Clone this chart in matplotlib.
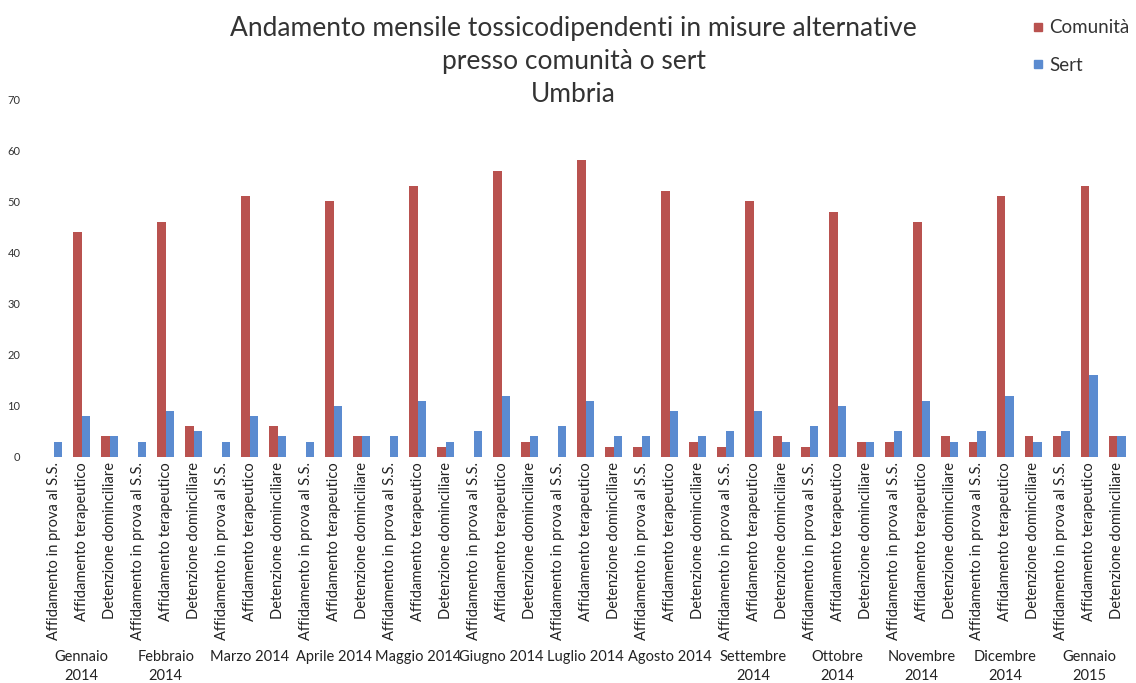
import numpy as np
import matplotlib
matplotlib.use("Agg")
import matplotlib.pyplot as plt
from matplotlib.lines import Line2D

plt.rcParams['font.family'] = ['Lato', 'DejaVu Sans']

# Months (group labels) and the three measures in each month
months = ["Gennaio\n2014", "Febbraio\n2014", "Marzo 2014", "Aprile 2014",
          "Maggio 2014", "Giugno 2014", "Luglio 2014", "Agosto 2014",
          "Settembre\n2014", "Ottobre\n2014", "Novembre\n2014",
          "Dicembre\n2014", "Gennaio\n2015"]
measures = ["Affidamento in prova al S.S.", "Affidamento terapeutico",
            "Detenzione dominciliare"]

# values per month: [prova S.S., terapeutico, detenzione]
comunita = [0, 44, 4,
            0, 46, 6,
            0, 51, 6,
            0, 50, 4,
            0, 53, 2,
            0, 56, 3,
            0, 58, 2,
            2, 52, 3,
            2, 50, 4,
            2, 48, 3,
            3, 46, 4,
            3, 51, 4,
            4, 53, 4]
sert = [3, 8, 4,
        3, 9, 5,
        3, 8, 4,
        3, 10, 4,
        4, 11, 3,
        5, 12, 4,
        6, 11, 4,
        4, 9, 4,
        5, 9, 3,
        6, 10, 3,
        5, 11, 3,
        5, 12, 3,
        5, 16, 4]

red = '#B9524F'
blue = '#5B8BD0'

labels = measures * len(months)
x = np.arange(len(labels))
w = 0.3

fig = plt.figure(figsize=(11.36, 6.83), dpi=100)
ax = fig.add_axes([0.035, 0.331, 0.961, 0.524])

ax.bar(x - w / 2, comunita, w, color=red)
ax.bar(x + w / 2, sert, w, color=blue)

ax.set_ylim(0, 70)
ax.set_xlim(-0.5, len(labels) - 0.5)
ax.set_yticks(range(0, 71, 10))
ax.tick_params(axis='y', length=0, labelsize=8, colors='#333333', pad=14)
ax.set_xticks(x)
ax.set_xticklabels(labels, rotation=90, fontsize=10.5, color='#222222')
ax.tick_params(axis='x', length=0, pad=4)
for s in ax.spines.values():
    s.set_visible(False)

# month labels under each group of three
for i, m in enumerate(months):
    ax.text(3 * i + 1, -0.54, m, transform=ax.get_xaxis_transform(),
            ha='center', va='top', fontsize=10.5, color='#222222',
            linespacing=1.45)

fig.text(0.505, 0.977, "Andamento mensile tossicodipendenti in misure alternative\n"
         "presso comunità o sert\nUmbria", ha='center', va='top',
         fontsize=19, color='#333333', linespacing=1.4)

handles = [Line2D([], [], marker='s', ls='', color=red, markersize=6),
           Line2D([], [], marker='s', ls='', color=blue, markersize=6)]
ax.legend(handles, ['Comunità', 'Sert'], loc='upper left',
          bbox_to_anchor=(0.894, 1.27), frameon=False, fontsize=13.5,
          handlelength=0.6, labelspacing=1.1, handletextpad=0.3,
          labelcolor='#333333')

fig.savefig("out.png", dpi=100)
